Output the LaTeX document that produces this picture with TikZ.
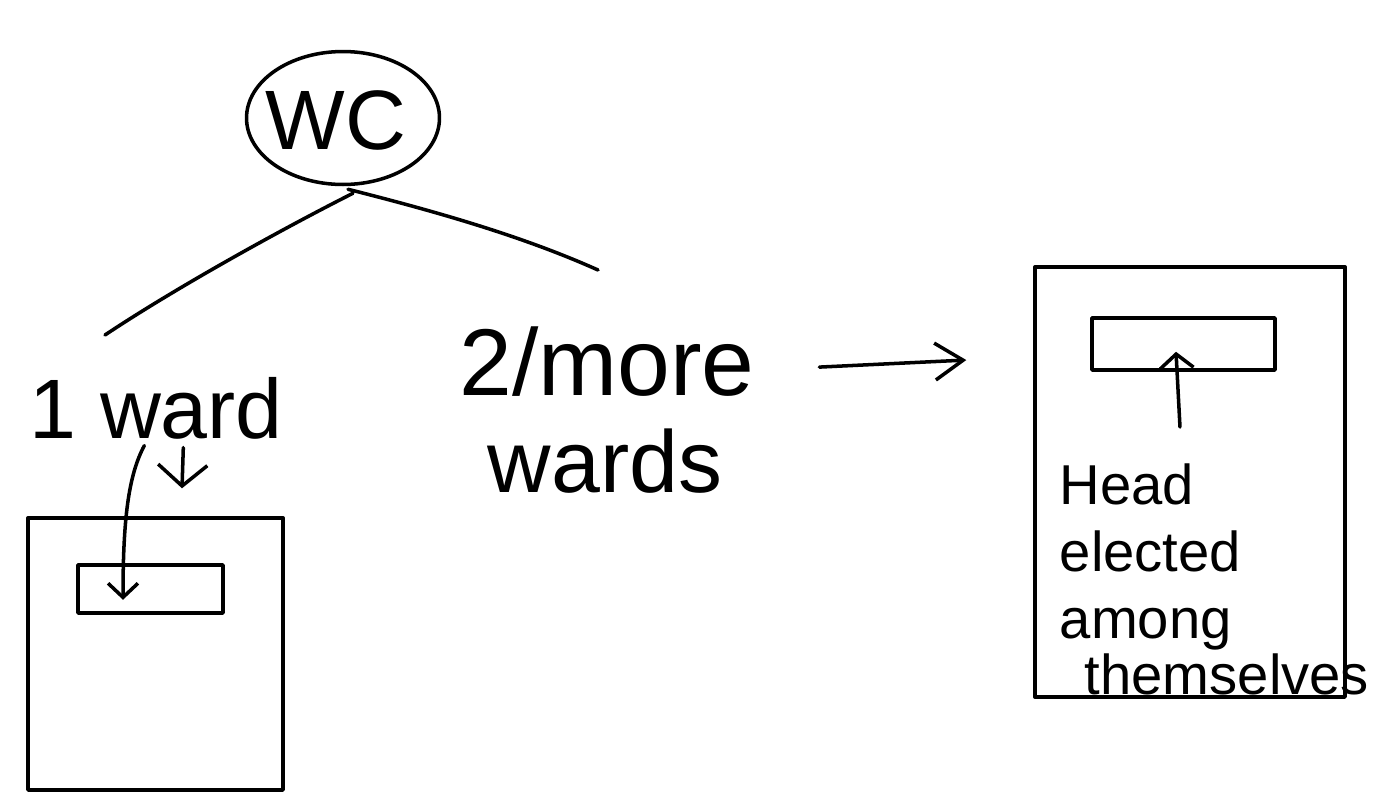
\documentclass[tikz,border=0pt]{standalone}
\usepackage{fontspec}
\setmainfont{Liberation Sans}
\usetikzlibrary{arrows.meta,shapes.geometric}
\begin{document}
\begin{tikzpicture}[x=0.02cm,y=-0.02cm,
  line width=2pt, line cap=round, line join=round,
  boxshape/.style={draw, rectangle, inner sep=0pt},
  lbl/.style={inner sep=0pt},
  bigtip/.style={-{Straight Barb[length=12pt,width=28pt,line width=2pt]}},
  smalltip/.style={-{Straight Barb[length=8pt,width=17pt,line width=2pt]}},
  uptip/.style={-{Straight Barb[length=8pt,width=19pt,line width=2pt]}},
  righttip/.style={-{Straight Barb[length=16pt,width=21pt,line width=2pt]}},
]
\useasboundingbox (0,0) rectangle (1385,809);

% top circle
\node[draw, ellipse, minimum width=3.86cm, minimum height=2.66cm, inner sep=0pt] (wc) at (343,118) {};
\node[lbl, font=\fontsize{48}{54}\selectfont] (wctext) at (336,120) {WC};

% texts
\node[lbl, anchor=base west, font=\fontsize{48}{54}\selectfont] (oneward) at (28,438) {1 ward};
\node[lbl, anchor=base, font=\fontsize{54}{60}\selectfont] (twomore) at (607,395) {2/more};
\node[lbl, anchor=base, font=\fontsize{50}{56}\selectfont] (wards) at (605,492) {wards};
\node[lbl, anchor=north west, align=left, font=\fontsize{32}{36}\selectfont] (head) at (1058,462)
  {Head\\[2pt]elected\\[2pt]among\\[-4pt]\hspace*{0.5cm}themselves};

% boxes
\node[boxshape, minimum width=5.1cm, minimum height=5.44cm] (lbox) at (155.5,654) {};
\node[boxshape, minimum width=2.9cm, minimum height=0.96cm] (lsmall) at (150.5,589) {};
\node[boxshape, minimum width=6.2cm, minimum height=8.6cm] (rbox) at (1190,482) {};
\node[boxshape, minimum width=3.66cm, minimum height=1.04cm] (rsmall) at (1183.5,344) {};

% branch ends
\coordinate (lend) at (105,335);
\coordinate (rend) at (598,270);

% connectors
\draw ([xshift=0.2cm,yshift=-0.14cm]wc.south) .. controls (290,225) and (180,285) .. (lend);
\draw ([xshift=0.1cm,yshift=-0.06cm]wc.south) .. controls (430,210) and (520,235) .. (rend);

\draw[bigtip] ([xshift=0.54cm,yshift=-0.14cm]oneward.south) -- ([xshift=0.53cm,yshift=0.56cm]lbox.north);
\draw[smalltip] ([xshift=-0.24cm,yshift=-0.1cm]oneward.south) .. controls +(-16,30) and +(0,-80) .. ([xshift=-0.55cm,yshift=0.3cm]lsmall.south);

\draw[righttip] ([xshift=1.26cm,yshift=-0.12cm]twomore.east) -- ([xshift=-1.34cm,yshift=2.44cm]rbox.west);

\draw[uptip] ([xshift=2.44cm,yshift=0.7cm]head.north west) -- ([xshift=-0.15cm,yshift=0.4cm]rsmall.south);
\end{tikzpicture}
\end{document}
